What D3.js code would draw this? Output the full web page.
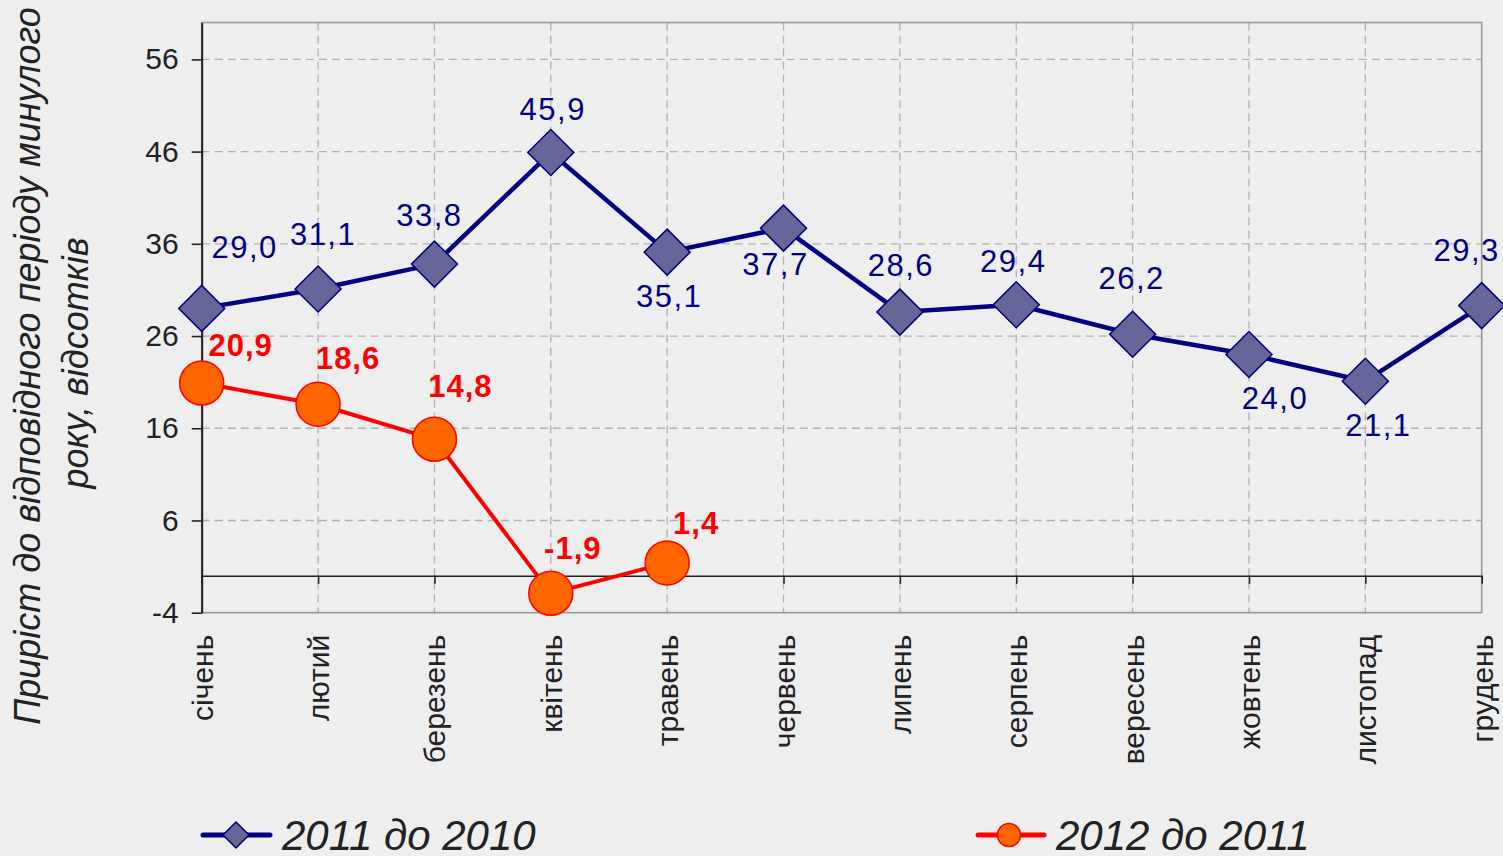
<!DOCTYPE html>
<html>
<head>
<meta charset="utf-8">
<script src="https://cdn.jsdelivr.net/npm/d3@7"></script>
<style>
  html, body { margin: 0; padding: 0; background: #eeeeee; }
  svg { display: block; font-family: "Liberation Sans", Arial, sans-serif; }
  .axis path, .axis line { stroke: #222; }
  .axis text { fill: #222; }
</style>
</head>
<body>
<div id="chart"></div>
<script>
// months along the x axis
const months = ['січень', 'лютий', 'березень', 'квітень', 'травень', 'червень',
  'липень', 'серпень', 'вересень', 'жовтень', 'листопад', 'грудень'];
// growth 2011 vs 2010, %
const g2011 = [29.0, 31.1, 33.8, 45.9, 35.1, 37.7, 28.6, 29.4, 26.2, 24.0, 21.1, 29.3];
// growth 2012 vs 2011, % (Jan–May only)
const g2012 = [20.9, 18.6, 14.8, -1.9, 1.4];
const yTicks = [-4, 6, 16, 26, 36, 46, 56];
const seriesNames = ['2011 до 2010', '2012 до 2011'];

// label nudges (px) relative to each point, as placed in the original
const shift2011 = [[42, -50], [4, -44], [-6, -38], [1, -33], [1, 55], [-9, 47],
  [0, -36], [-4, -33], [-2, -45], [25, 55], [12, 55], [-16, -45]];
const shift2012 = [[38, -27], [29, -35], [25, -42], [21, -34], [28, -29]];

const W = 1503, H = 856;
const L = 201.7, R = 1481.7, T = 22.5, B = 612.7;
const fmt = v => v.toFixed(1).replace('.', ',');

const svg = d3.select('#chart').append('svg').attr('width', W).attr('height', H);

const x = d3.scalePoint().domain(months).range([L, R]);
const y = d3.scaleLinear().domain([-4, 60]).range([B, T]);

// gridlines
svg.append('g').selectAll('line')
  .data(yTicks.filter(d => d > -4))
  .enter().append('line')
  .attr('x1', L).attr('x2', R)
  .attr('y1', d => y(d)).attr('y2', d => y(d))
  .attr('stroke', '#b0b0b0').attr('stroke-width', 1.3).attr('stroke-dasharray', '8,5');
svg.append('g').selectAll('line')
  .data(months.slice(1, -1))
  .enter().append('line')
  .attr('x1', d => x(d)).attr('x2', d => x(d))
  .attr('y1', T).attr('y2', B)
  .attr('stroke', '#b0b0b0').attr('stroke-width', 1.3).attr('stroke-dasharray', '8,5');

// plot frame
svg.append('rect').attr('x', L).attr('y', T).attr('width', R - L).attr('height', B - T)
  .attr('fill', 'none').attr('stroke', '#999').attr('stroke-width', 1.6);

// y axis
svg.append('g').attr('class', 'axis').attr('transform', `translate(${L},0)`)
  .call(d3.axisLeft(y).tickValues(yTicks).tickFormat(d => String(d))
    .tickSize(10).tickPadding(13).tickSizeOuter(0))
  .call(g => g.select('.domain').attr('stroke-width', 2))
  .call(g => g.selectAll('.tick line').attr('stroke-width', 1.6))
  .call(g => g.selectAll('text').attr('font-size', 30).attr('font-family', '"Liberation Sans", Arial, sans-serif'));

// zero line with month ticks
svg.append('g').attr('class', 'axis').attr('transform', `translate(0,${y(0)})`)
  .call(d3.axisBottom(x).tickSize(8).tickSizeOuter(0).tickFormat(''))
  .call(g => g.select('.domain').attr('stroke-width', 1.6))
  .call(g => g.selectAll('.tick line').attr('stroke-width', 1.6));

// month labels under the plot
svg.append('g').attr('class', 'axis').attr('transform', `translate(0,${B})`)
  .call(d3.axisBottom(x).tickSize(0))
  .call(g => g.select('.domain').remove())
  .call(g => g.selectAll('text')
    .attr('font-size', 30).attr('font-family', '"Liberation Sans", Arial, sans-serif')
    .attr('text-anchor', 'end').attr('transform', 'rotate(-90)')
    .attr('x', -22).attr('y', 0).attr('dy', '0.35em'));

// series 2011
const line = d3.line().x((d, i) => x(months[i])).y(d => y(d));
svg.append('path').datum(g2011).attr('d', line)
  .attr('fill', 'none').attr('stroke', '#000080').attr('stroke-width', 4.5).attr('stroke-linejoin', 'round');
svg.append('g').selectAll('path')
  .data(g2011).enter().append('path')
  .attr('d', d3.symbol(d3.symbolSquare, 1058))
  .attr('transform', (d, i) => `translate(${x(months[i])},${y(d)}) rotate(45)`)
  .attr('fill', '#666699').attr('stroke', '#000080').attr('stroke-width', 1.5);
svg.append('g').selectAll('text')
  .data(g2011).enter().append('text')
  .attr('x', (d, i) => x(months[i]) + shift2011[i][0] + 1)
  .attr('y', (d, i) => y(d) + shift2011[i][1])
  .attr('text-anchor', 'middle').attr('font-size', 31).attr('letter-spacing', 1.5)
  .attr('fill', '#000080')
  .text(fmt);

// series 2012
svg.append('path').datum(g2012).attr('d', line)
  .attr('fill', 'none').attr('stroke', '#ff0000').attr('stroke-width', 4).attr('stroke-linejoin', 'round');
svg.append('g').selectAll('circle')
  .data(g2012).enter().append('circle')
  .attr('cx', (d, i) => x(months[i])).attr('cy', d => y(d)).attr('r', 22)
  .attr('fill', '#ff6600').attr('stroke', '#ff0000').attr('stroke-width', 1.5);
svg.append('g').selectAll('text')
  .data(g2012).enter().append('text')
  .attr('x', (d, i) => x(months[i]) + shift2012[i][0] + 1)
  .attr('y', (d, i) => y(d) + shift2012[i][1])
  .attr('text-anchor', 'middle').attr('font-size', 31).attr('font-weight', 'bold').attr('letter-spacing', 1)
  .attr('fill', '#ff0000')
  .text(fmt);

// y title
const yt = svg.append('text').attr('transform', 'translate(0,366) rotate(-90)')
  .attr('text-anchor', 'middle').attr('font-size', 36).attr('font-style', 'italic').attr('fill', '#222');
yt.append('tspan').attr('x', 0).attr('y', 40).text('Приріст до відповідного періоду минулого');
yt.append('tspan').attr('x', 3).attr('y', 88).text('року, відсотків');

// legend
const leg = svg.append('g');
const l1 = leg.append('g').attr('transform', 'translate(203,835)');
l1.append('line').attr('x1', 0).attr('x2', 67).attr('stroke', '#000080').attr('stroke-width', 5).attr('stroke-linecap', 'round');
l1.append('path').attr('d', d3.symbol(d3.symbolSquare, 338)).attr('transform', 'translate(33,0) rotate(45)')
  .attr('fill', '#666699').attr('stroke', '#000080').attr('stroke-width', 1.5);
l1.append('text').attr('x', 79).attr('y', 15).attr('font-size', 42).attr('font-style', 'italic').attr('fill', '#222').text(seriesNames[0]);
const l2 = leg.append('g').attr('transform', 'translate(978,835)');
l2.append('line').attr('x1', 0).attr('x2', 66).attr('stroke', '#ff0000').attr('stroke-width', 5).attr('stroke-linecap', 'round');
l2.append('circle').attr('cx', 31).attr('r', 11.5).attr('fill', '#ff6600').attr('stroke', '#ff0000').attr('stroke-width', 1.5);
l2.append('text').attr('x', 78).attr('y', 15).attr('font-size', 42).attr('font-style', 'italic').attr('fill', '#222').text(seriesNames[1]);
</script>
</body>
</html>
